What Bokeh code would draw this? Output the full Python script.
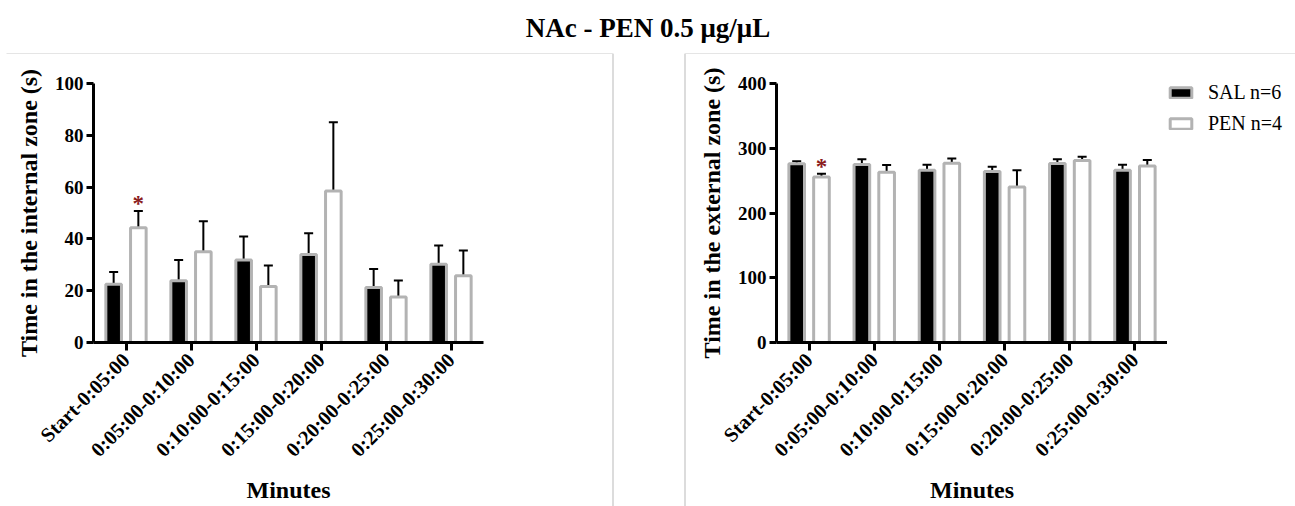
import math
from bokeh.plotting import figure
from bokeh.models import (FactorRange, Range1d, Whisker, TeeHead, Legend, LegendItem,
                          ColumnDataSource, FixedTicker, Spacer)
from bokeh.layouts import column, row
from bokeh.transform import dodge
from bokeh.core.properties import value
from bokeh.embed import file_html
from bokeh.resources import INLINE

title_text = "NAc - PEN 0.5 μg/μL"
categories = ["Start-0:05:00", "0:05:00-0:10:00", "0:10:00-0:15:00",
              "0:15:00-0:20:00", "0:20:00-0:25:00", "0:25:00-0:30:00"]
series_labels = ["SAL n=6", "PEN n=4"]

int_sal = [22.5, 23.8, 31.9, 34.0, 21.2, 30.2]
int_sal_sem = [4.7, 8.1, 9.0, 8.2, 7.2, 7.3]
int_pen = [44.3, 35.0, 21.6, 58.5, 17.6, 25.8]
int_pen_sem = [6.5, 11.8, 8.1, 26.5, 6.3, 9.7]
int_sig = ["*", "", "", "", "", ""]
int_ticks = [0, 20, 40, 60, 80, 100]

ext_sal = [276, 275, 266, 264, 276.5, 266]
ext_sal_sem = [4, 8, 8.5, 7.5, 6.5, 8.5]
ext_pen = [255.5, 263, 277, 240, 281, 272.5]
ext_pen_sem = [5, 11, 7, 26, 6, 9.5]
ext_sig = ["*", "", "", "", "", ""]
ext_ticks = [0, 100, 200, 300, 400]

FONT = "Liberation Serif"
GRAY = "#b3b3b3"
BORDER = "#dcdcdc"
SAL_STYLE = dict(fill_color="black", line_color=GRAY, line_width=3)
PEN_STYLE = dict(fill_color="white", line_color=GRAY, line_width=3)


def make_panel(width, mb_left, mb_right, ymax, ticks, sal, sal_e, pen, pen_e, sig, ylabel):
    src = ColumnDataSource(dict(
        cat=categories, sal=sal, pen=pen,
        sal_hi=[a + b for a, b in zip(sal, sal_e)],
        pen_hi=[a + b for a, b in zip(pen, pen_e)],
        sig=sig))
    p = figure(width=width, height=452,
               x_range=FactorRange(*categories, range_padding=0),
               y_range=Range1d(0, ymax),
               output_backend="svg", toolbar_location=None,
               min_border_left=mb_left, min_border_right=mb_right,
               min_border_top=29, min_border_bottom=164)
    p.grid.visible = False
    p.outline_line_color = None
    p.background_fill_color = "white"
    p.border_fill_color = "white"

    p.vbar(x=dodge("cat", -0.19, range=p.x_range), top="sal", width=0.24,
           source=src, **SAL_STYLE)
    p.vbar(x=dodge("cat", 0.19, range=p.x_range), top="pen", width=0.24,
           source=src, **PEN_STYLE)
    for off, lo, hi in ((-0.19, "sal", "sal_hi"), (0.19, "pen", "pen_hi")):
        w = Whisker(source=src, base=dodge("cat", off, range=p.x_range),
                    lower=lo, upper=hi, line_width=2, line_color="black",
                    upper_head=TeeHead(size=9, line_width=2, line_color="black"),
                    lower_head=None)
        p.add_layout(w)
    p.text(x=dodge("cat", 0.19, range=p.x_range), y="pen_hi", text="sig", source=src,
           text_font=value(FONT), text_font_style="bold", text_font_size="23px",
           text_color="#8b1c1c", text_align="center", text_baseline="alphabetic",
           y_offset=-7)

    for ax in p.axis:
        ax.axis_line_width = 3
        ax.axis_line_color = "black"
        ax.major_tick_line_width = 3
        ax.major_tick_line_color = "black"
        ax.major_tick_in = 0
        ax.minor_tick_line_color = None
        ax.major_label_text_font = FONT
        ax.major_label_text_font_style = "bold"
        ax.major_label_text_color = "black"
        ax.axis_label_text_font = FONT
        ax.axis_label_text_font_style = "bold"
        ax.axis_label_text_color = "black"
        ax.axis_label_text_font_size = "24px"
    p.yaxis.ticker = FixedTicker(ticks=ticks)
    p.yaxis.major_tick_out = 7
    p.yaxis.major_label_text_font_size = "19px"
    p.yaxis.major_label_standoff = 3
    p.yaxis.axis_label = ylabel
    p.yaxis.axis_label_standoff = 10
    p.xaxis.major_tick_out = 8
    p.xaxis.major_label_text_font_size = "20.5px"
    p.xaxis.major_label_orientation = math.pi / 4
    p.xaxis.major_label_standoff = 6
    p.xaxis.axis_label = "Minutes"
    p.xaxis.axis_label_standoff = 5
    return p


p1 = make_panel(612, 93, 129, 100, int_ticks, int_sal, int_sal_sem, int_pen, int_pen_sem,
                int_sig, "Time in the internal zone (s)")
p2 = make_panel(481, 90, 0, 400, ext_ticks, ext_sal, ext_sal_sem, ext_pen, ext_pen_sem,
                ext_sig, "Time in the external zone (s)")

# legend area to the right of the second panel (its sample bars lie outside the view)
lf = figure(width=128, height=425, x_range=Range1d(0, 1), y_range=Range1d(0, 1),
            x_axis_type=None, y_axis_type=None, output_backend="svg",
            toolbar_location=None, min_border=0)
lf.grid.visible = False
lf.outline_line_color = None
hidden = ColumnDataSource(dict(x=[5], top=[0]))
lr_sal = lf.vbar(x="x", top="top", width=0.1, source=hidden, **SAL_STYLE)
lr_pen = lf.vbar(x="x", top="top", width=0.1, source=hidden, **PEN_STYLE)
legend = Legend(items=[LegendItem(label=series_labels[0], renderers=[lr_sal]),
                       LegendItem(label=series_labels[1], renderers=[lr_pen])],
                location="top_left", glyph_width=27, glyph_height=13,
                label_text_font=FONT, label_text_font_size="20px",
                label_text_color="black", label_standoff=14,
                spacing=8, padding=0, margin=0,
                border_line_color=None, background_fill_alpha=0)
lf.add_layout(legend, "center")
legend_col = column(Spacer(width=128, height=27), lf, spacing=0)

t = figure(width=1295, height=54, x_range=Range1d(0, 1295), y_range=Range1d(0, 54),
           x_axis_type=None, y_axis_type=None, output_backend="svg", toolbar_location=None,
           min_border=0)
t.grid.visible = False
t.outline_line_color = None
t.text(x=[647.5], y=[27], text=[title_text], text_font=value(FONT),
       text_font_style="bold", text_font_size="27px", text_color="black",
       text_align="center", text_baseline="middle")
t.segment(x0=[6, 684], y0=[0.5, 0.5], x1=[613, 1295], y1=[0.5, 0.5],
          line_color=BORDER, line_width=1.5)

b1 = Spacer(width=2, height=452, styles={"background-color": BORDER})
gap = Spacer(width=70, height=452)
b2 = Spacer(width=2, height=452, styles={"background-color": BORDER})

layout = column(t, row(p1, b1, gap, b2, p2, legend_col, spacing=0), spacing=0)
open("out.html", "w").write(file_html(layout, INLINE))
